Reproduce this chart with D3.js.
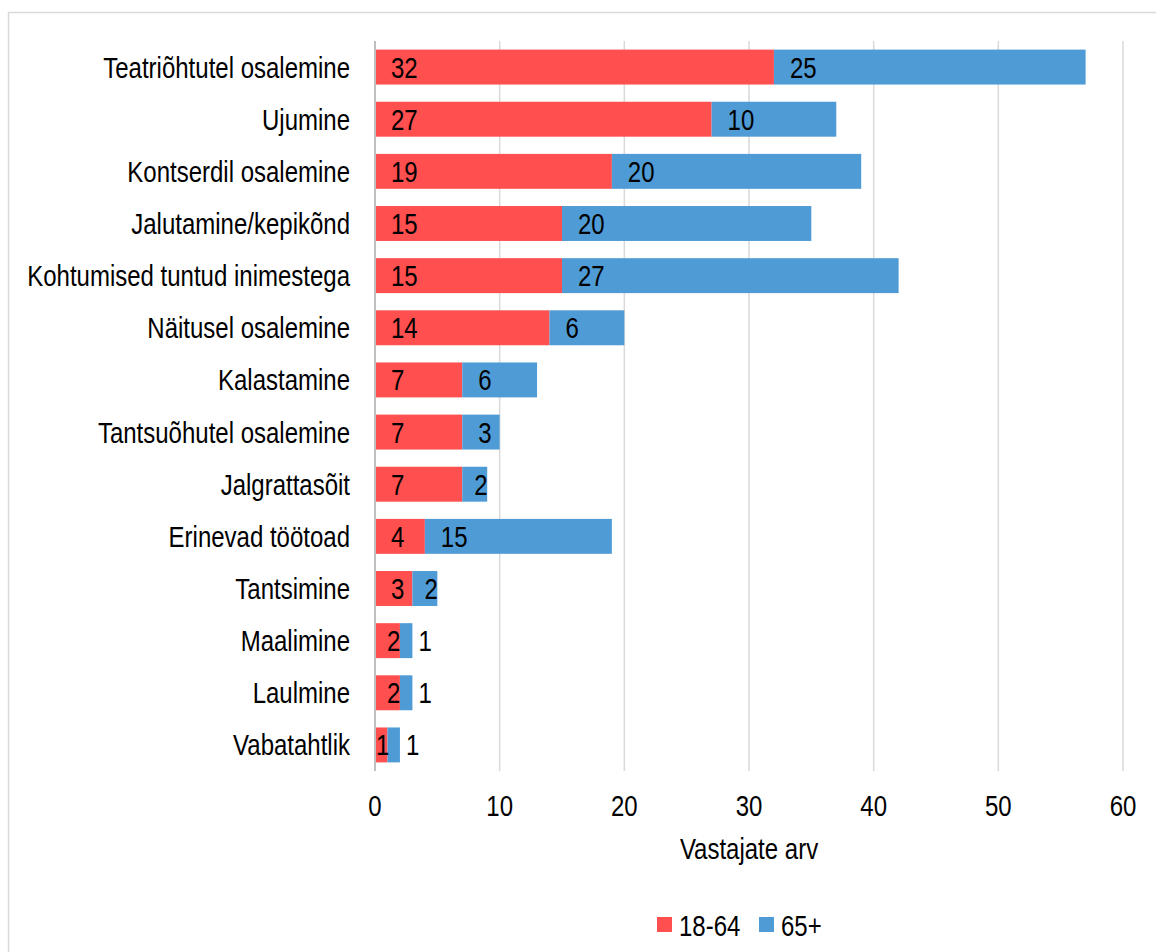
<!DOCTYPE html>
<html>
<head>
<meta charset="utf-8">
<script src="https://cdn.jsdelivr.net/npm/d3@7"></script>
<style>
  html, body { margin: 0; padding: 0; background: #fff; }
  svg { display: block; }
  text { font-family: "Liberation Sans", Arial, sans-serif; fill: #000; }
</style>
</head>
<body>
<svg id="chart" width="1156" height="952"></svg>
<script>
// Activities, top to bottom
const categories = [
  "Teatriõhtutel osalemine",
  "Ujumine",
  "Kontserdil osalemine",
  "Jalutamine/kepikõnd",
  "Kohtumised tuntud inimestega",
  "Näitusel osalemine",
  "Kalastamine",
  "Tantsuõhutel osalemine",
  "Jalgrattasõit",
  "Erinevad töötoad",
  "Tantsimine",
  "Maalimine",
  "Laulmine",
  "Vabatahtlik"
];
const seriesNames = ["18-64", "65+"];
const values1864 = [32, 27, 19, 15, 15, 14, 7, 7, 7, 4, 3, 2, 2, 1];
const values65 = [25, 10, 20, 20, 27, 6, 6, 3, 2, 15, 2, 1, 1, 1];
const xTicks = [0, 10, 20, 30, 40, 50, 60];
const axisTitle = "Vastajate arv";
const colors = ["#ff4f4f", "#4f9bd5"];

const svg = d3.select("#chart");

// narrow text: regular sans squeezed horizontally
const FONT = 30, SQUEEZE = 0.8;
function narrowText(parent, tx, ty, str, anchor) {
  return parent.append("text")
    .attr("transform", `translate(${tx},${ty}) scale(${SQUEEZE},1)`)
    .attr("dy", "0.35em")
    .attr("text-anchor", anchor || "start")
    .attr("font-size", FONT)
    .text(str);
}

// outer frame (top and left edges visible)
svg.append("rect")
  .attr("x", 8.5).attr("y", 12.5)
  .attr("width", 1200).attr("height", 1000)
  .attr("fill", "none").attr("stroke", "#d9d9d9").attr("stroke-width", 1.5);

const plot = { left: 375, right: 1123, top: 41, bottom: 771 };

const x = d3.scaleLinear().domain([0, 60]).range([plot.left, plot.right]);
const y = d3.scaleBand().domain(categories).range([plot.top, plot.bottom]).paddingInner(0.33).paddingOuter(0.165);

// gridlines
svg.append("g")
  .selectAll("line")
  .data(xTicks.filter(d => d > 0))
  .join("line")
  .attr("x1", d => x(d)).attr("x2", d => x(d))
  .attr("y1", plot.top).attr("y2", plot.bottom)
  .attr("stroke", "#d9d9d9").attr("stroke-width", 1.5);

// stacked data
const rows = categories.map((c, i) => ({ cat: c, a: values1864[i], b: values65[i] }));
const stack = d3.stack().keys(["a", "b"])(rows);

const groups = svg.append("g").selectAll("g")
  .data(stack)
  .join("g")
  .attr("fill", (d, i) => colors[i]);

groups.selectAll("rect")
  .data(d => d)
  .join("rect")
  .attr("x", d => x(d[0]))
  .attr("y", d => y(d.data.cat))
  .attr("width", d => x(d[1]) - x(d[0]))
  .attr("height", y.bandwidth());

// value labels: at the base of each segment, beside it when too short
const labels = svg.append("g");
stack.forEach((layer, si) => {
  layer.forEach(d => {
    const x0 = x(d[0]), x1 = x(d[1]), w = x1 - x0;
    let lx;
    if (w >= 30) lx = x0 + 16;
    else if (w >= 20) lx = x0 + 12;
    else lx = si === 0 ? x0 + 1 : x1 + 6;
    narrowText(labels, lx, y(d.data.cat) + y.bandwidth() / 2, d[1] - d[0]);
  });
});

// vertical axis line
svg.append("line")
  .attr("x1", plot.left).attr("x2", plot.left)
  .attr("y1", plot.top).attr("y2", plot.bottom)
  .attr("stroke", "#bfbfbf").attr("stroke-width", 2);

// category labels
const catG = svg.append("g");
categories.forEach(c => narrowText(catG, plot.left - 25, y(c) + y.bandwidth() / 2, c, "end"));

// x tick labels
const tickG = svg.append("g");
xTicks.forEach(t => narrowText(tickG, x(t), 805, t, "middle"));

// axis title
narrowText(svg, (plot.left + plot.right) / 2, 848, axisTitle, "middle");

// legend
const legend = svg.append("g");
const legendItems = [{ name: seriesNames[0], x: 657 }, { name: seriesNames[1], x: 759 }];
legendItems.forEach((it, i) => {
  legend.append("rect")
    .attr("x", it.x).attr("y", 917)
    .attr("width", 15).attr("height", 15)
    .attr("fill", colors[i]);
  narrowText(legend, it.x + 22, 925, it.name);
});
</script>
</body>
</html>
